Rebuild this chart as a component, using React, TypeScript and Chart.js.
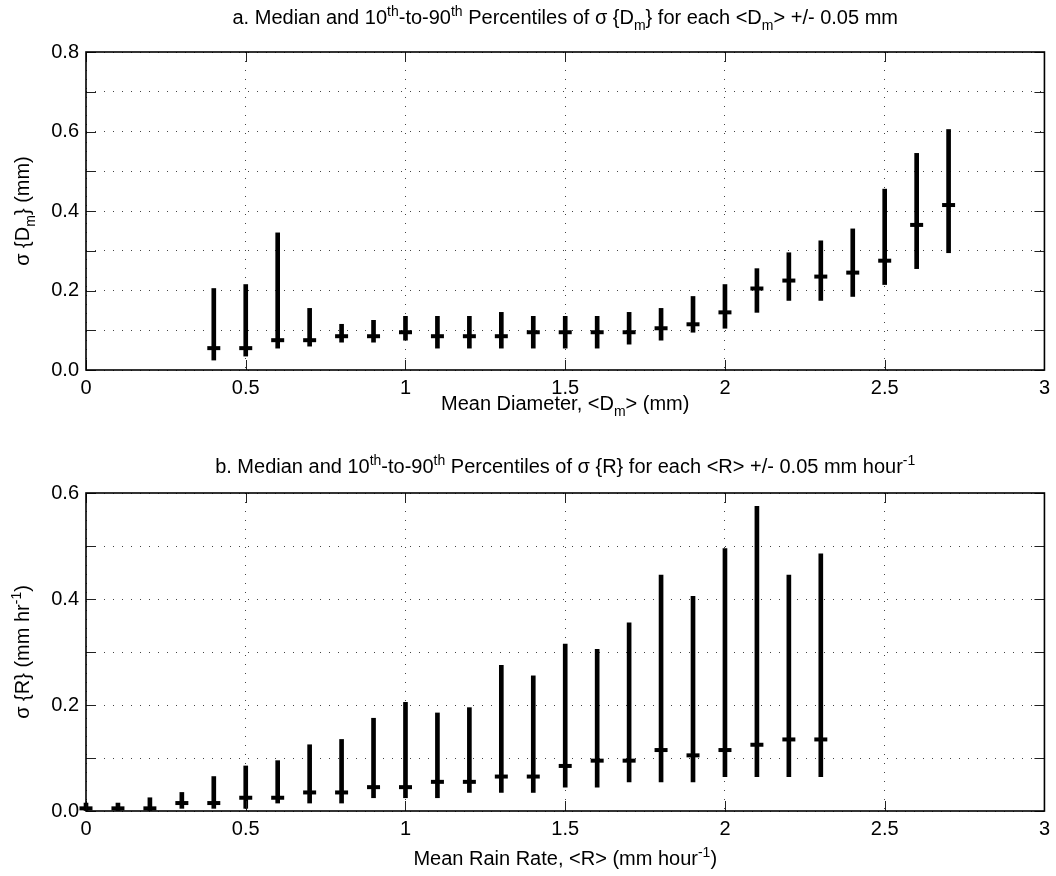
import React, { useEffect, useRef } from 'react';
import { Chart, registerables } from 'chart.js';

Chart.register(...registerables);

const FONT = '"Liberation Sans", Arial, Helvetica, sans-serif';

// ---- Panel a: sigma{Dm} vs mean diameter ----
const diamX = [0.4, 0.5, 0.6, 0.7, 0.8, 0.9, 1.0, 1.1, 1.2, 1.3, 1.4, 1.5, 1.6, 1.7, 1.8, 1.9, 2.0, 2.1, 2.2, 2.3, 2.4, 2.5, 2.6, 2.7];
const diamP10 = [0.025, 0.035, 0.055, 0.06, 0.07, 0.07, 0.075, 0.055, 0.055, 0.055, 0.055, 0.055, 0.055, 0.065, 0.075, 0.095, 0.105, 0.145, 0.175, 0.175, 0.185, 0.215, 0.255, 0.295];
const diamMedian = [0.055, 0.055, 0.075, 0.075, 0.085, 0.085, 0.095, 0.085, 0.085, 0.085, 0.095, 0.095, 0.095, 0.095, 0.105, 0.115, 0.145, 0.205, 0.225, 0.235, 0.245, 0.275, 0.365, 0.415];
const diamP90 = [0.205, 0.215, 0.345, 0.155, 0.115, 0.125, 0.135, 0.135, 0.135, 0.145, 0.135, 0.135, 0.135, 0.145, 0.155, 0.185, 0.215, 0.255, 0.295, 0.325, 0.355, 0.455, 0.545, 0.605];

// ---- Panel b: sigma{R} vs mean rain rate ----
const rateX = [0.0, 0.1, 0.2, 0.3, 0.4, 0.5, 0.6, 0.7, 0.8, 0.9, 1.0, 1.1, 1.2, 1.3, 1.4, 1.5, 1.6, 1.7, 1.8, 1.9, 2.0, 2.1, 2.2, 2.3];
const rateP10 = [0.0, 0.0, 0.0, 0.005, 0.005, 0.005, 0.015, 0.015, 0.015, 0.025, 0.025, 0.025, 0.035, 0.035, 0.035, 0.045, 0.045, 0.055, 0.055, 0.055, 0.065, 0.065, 0.065, 0.065];
const rateMedian = [0.005, 0.005, 0.005, 0.015, 0.015, 0.025, 0.025, 0.035, 0.035, 0.045, 0.045, 0.055, 0.055, 0.065, 0.065, 0.085, 0.095, 0.095, 0.115, 0.105, 0.115, 0.125, 0.135, 0.135];
const rateP90 = [0.015, 0.015, 0.025, 0.035, 0.065, 0.085, 0.095, 0.125, 0.135, 0.175, 0.205, 0.185, 0.195, 0.275, 0.255, 0.315, 0.305, 0.355, 0.445, 0.405, 0.495, 0.575, 0.445, 0.485];

// axis ranges / ticks
const xTickStep = 0.5;
const yGridStep = 0.1;
const diamXRange = [0, 3];
const diamYRange = [0, 0.8];
const rateXRange = [0, 3];
const rateYRange = [0, 0.6];

type Seg = { t: string; k?: 'sup' | 'sub' };

const titleA: Seg[] = [
  { t: 'a. Median and 10' }, { t: 'th', k: 'sup' }, { t: '-to-90' }, { t: 'th', k: 'sup' },
  { t: ' Percentiles of σ {D' }, { t: 'm', k: 'sub' }, { t: '} for each <D' }, { t: 'm', k: 'sub' },
  { t: '> +/- 0.05 mm' },
];
const xLabelA: Seg[] = [{ t: 'Mean Diameter, <D' }, { t: 'm', k: 'sub' }, { t: '> (mm)' }];
const yLabelA: Seg[] = [{ t: 'σ {D' }, { t: 'm', k: 'sub' }, { t: '} (mm)' }];

const titleB: Seg[] = [
  { t: 'b. Median and 10' }, { t: 'th', k: 'sup' }, { t: '-to-90' }, { t: 'th', k: 'sup' },
  { t: ' Percentiles of σ {R} for each <R> +/- 0.05 mm hour' }, { t: '-1', k: 'sup' },
];
const xLabelB: Seg[] = [{ t: 'Mean Rain Rate, <R> (mm hour' }, { t: '-1', k: 'sup' }, { t: ')' }];
const yLabelB: Seg[] = [{ t: 'σ {R} (mm hr' }, { t: '-1', k: 'sup' }, { t: ')' }];

const FS = 20;

function segFont(size: number, k?: string) {
  return `${k ? Math.round(size * 0.68) : size}px ${FONT}`;
}
function richWidth(ctx: CanvasRenderingContext2D, segs: Seg[], size: number) {
  let w = 0;
  for (const s of segs) {
    ctx.font = segFont(size, s.k);
    w += ctx.measureText(s.t).width;
  }
  return w;
}
function drawRich(ctx: CanvasRenderingContext2D, segs: Seg[], cx: number, baseY: number, size: number) {
  const w = richWidth(ctx, segs, size);
  let x = cx - w / 2;
  ctx.textAlign = 'left';
  ctx.textBaseline = 'alphabetic';
  ctx.fillStyle = '#000';
  for (const s of segs) {
    ctx.font = segFont(size, s.k);
    const dy = s.k === 'sup' ? -size * 0.42 : s.k === 'sub' ? size * 0.3 : 0;
    ctx.fillText(s.t, x, baseY + dy);
    x += ctx.measureText(s.t).width;
  }
}

interface PanelCfg {
  xs: number[]; lo: number[]; med: number[]; hi: number[];
  xRange: number[]; yRange: number[];
  title: Seg[]; titleY: number;
  xLabel: Seg[]; xLabelY: number;
  yLabel: Seg[]; yLabelX: number;
  top: number; xAxisH: number;
}

function Panel({ cfg }: { cfg: PanelCfg }) {
  const ref = useRef<HTMLCanvasElement>(null);
  useEffect(() => {
    if (!ref.current) return;
    const decor = {
      id: 'decor',
      afterDraw(chart: any) {
        const ctx: CanvasRenderingContext2D = chart.ctx;
        const a = chart.chartArea;
        const xs = chart.scales.x;
        const ys = chart.scales.y;
        ctx.save();
        // inward ticks
        ctx.strokeStyle = '#222';
        ctx.lineWidth = 1;
        ctx.beginPath();
        for (let v = cfg.xRange[0]; v <= cfg.xRange[1] + 1e-9; v += xTickStep) {
          const px = Math.round(xs.getPixelForValue(v)) + 0.5;
          ctx.moveTo(px, a.bottom); ctx.lineTo(px, a.bottom - 10);
          ctx.moveTo(px, a.top); ctx.lineTo(px, a.top + 10);
        }
        for (let v = cfg.yRange[0]; v <= cfg.yRange[1] + 1e-9; v += yGridStep) {
          const py = Math.round(ys.getPixelForValue(v)) + 0.5;
          ctx.moveTo(a.left, py); ctx.lineTo(a.left + 10, py);
          ctx.moveTo(a.right, py); ctx.lineTo(a.right - 10, py);
        }
        ctx.stroke();
        // box
        ctx.strokeStyle = '#000';
        ctx.lineWidth = 1.6;
        ctx.strokeRect(a.left, a.top, a.right - a.left, a.bottom - a.top);
        // texts
        const cx = (a.left + a.right) / 2;
        drawRich(ctx, cfg.title, cx, cfg.titleY, FS);
        drawRich(ctx, cfg.xLabel, cx, cfg.xLabelY, FS);
        ctx.translate(cfg.yLabelX, (a.top + a.bottom) / 2);
        ctx.rotate(-Math.PI / 2);
        drawRich(ctx, cfg.yLabel, 0, 0, FS);
        ctx.restore();
      },
    };
    const tickFont = { family: FONT, size: FS };
    const chart = new Chart(ref.current, {
      type: 'bar',
      data: {
        datasets: [
          {
            type: 'bar',
            data: cfg.xs.map((x, i) => ({ x, y: [cfg.lo[i], cfg.hi[i]] })) as any,
            backgroundColor: '#000',
            borderWidth: 0,
            barThickness: 4,
            clip: false as any,
            order: 2,
          } as any,
          {
            type: 'scatter',
            data: cfg.xs.map((x, i) => ({ x, y: cfg.med[i] })),
            pointStyle: 'line',
            pointRadius: 6.5,
            borderWidth: 4,
            borderColor: '#000',
            backgroundColor: '#000',
            clip: false as any,
            order: 1,
          } as any,
        ],
      },
      options: {
        animation: false,
        responsive: false,
        maintainAspectRatio: false,
        layout: { padding: { top: cfg.top, right: 9, left: 0, bottom: 0 } },
        plugins: { legend: { display: false }, tooltip: { enabled: false }, title: { display: false } },
        scales: {
          x: {
            type: 'linear',
            min: cfg.xRange[0],
            max: cfg.xRange[1],
            offset: false,
            ticks: {
              stepSize: xTickStep, font: tickFont, color: '#000', padding: 6, maxRotation: 0, autoSkip: false,
              callback: (v: any) => String(Math.round(Number(v) * 10) / 10),
            },
            grid: { color: '#444', lineWidth: 1, drawTicks: false, offset: false },
            border: { display: false, dash: [1, 8] },
            afterFit: (s: any) => { s.height = cfg.xAxisH; },
          },
          y: {
            type: 'linear',
            min: cfg.yRange[0],
            max: cfg.yRange[1],
            ticks: {
              stepSize: yGridStep,
              font: tickFont,
              color: '#000',
              padding: 7,
              autoSkip: false,
              callback: (v: any) => (Math.round(Number(v) * 10) % 2 === 0 ? Number(v).toFixed(1) : ''),
            },
            grid: { color: '#444', lineWidth: 1, drawTicks: false },
            border: { display: false, dash: [1, 8] },
            afterFit: (s: any) => { s.width = 86; },
          },
        },
      } as any,
      plugins: [decor],
    });
    return () => chart.destroy();
  }, [cfg]);
  return <canvas ref={ref} width={1056} height={438} style={{ display: 'block', width: 1056, height: 438 }} />;
}

const cfgA: PanelCfg = {
  xs: diamX, lo: diamP10, med: diamMedian, hi: diamP90,
  xRange: diamXRange, yRange: diamYRange,
  title: titleA, titleY: 24,
  xLabel: xLabelA, xLabelY: 410,
  yLabel: yLabelA, yLabelX: 29,
  top: 52, xAxisH: 68,
};
const cfgB: PanelCfg = {
  xs: rateX, lo: rateP10, med: rateMedian, hi: rateP90,
  xRange: rateXRange, yRange: rateYRange,
  title: titleB, titleY: 35,
  xLabel: xLabelB, xLabelY: 427,
  yLabel: yLabelB, yLabelX: 29,
  top: 55, xAxisH: 65,
};

export default function App() {
  return (
    <div style={{ position: 'absolute', left: 0, top: 0, width: 1056, height: 876, background: '#fff' }}>
      <Panel cfg={cfgA} />
      <Panel cfg={cfgB} />
    </div>
  );
}
